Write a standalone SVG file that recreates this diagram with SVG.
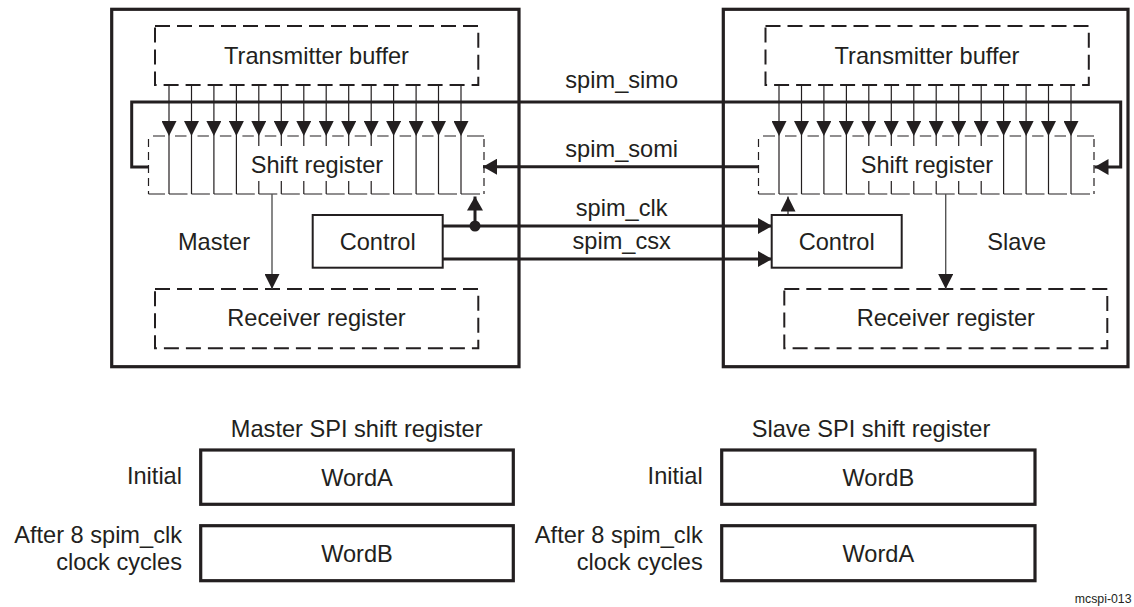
<svg xmlns="http://www.w3.org/2000/svg" xmlns:xlink="http://www.w3.org/1999/xlink" width="1134" height="607" viewBox="0 0 1134 607">
<style>
text{font-family:"Liberation Sans",Arial,Helvetica,sans-serif;font-size:23.6px;fill:#231f20;text-anchor:middle}
.small{font-size:12.3px;text-anchor:end}
.end{text-anchor:end}
.outer{fill:none;stroke:#231f20;stroke-width:3.2}
.dash{fill:none;stroke:#231f20;stroke-width:2;stroke-dasharray:15 7}
.ctrl{fill:#fff;stroke:#231f20;stroke-width:2}
.word{fill:none;stroke:#231f20;stroke-width:3.2}
.thin{fill:none;stroke:#231f20;stroke-width:1.2}
.thind{fill:none;stroke:#231f20;stroke-width:1.2;stroke-dasharray:8 5}
.wire{fill:none;stroke:#231f20;stroke-width:3}
.feed{fill:none;stroke:#555;stroke-width:1.4}
</style>
<defs>
<marker id="ah" viewBox="0 0 14 16" refX="14" refY="8" markerWidth="14" markerHeight="16" markerUnits="userSpaceOnUse" orient="auto">
<path d="M0,0 L14,8 L0,16 z" fill="#231f20"/>
</marker>
<marker id="ahs" viewBox="0 0 15 15" refX="15" refY="7.5" markerWidth="15" markerHeight="15" markerUnits="userSpaceOnUse" orient="auto">
<path d="M0,0 L15,7.5 L0,15 z" fill="#231f20"/>
</marker>
<g id="sr">
<path class="thin" marker-end="url(#ahs)" d="M169 85 V136"/>
<path class="thin" marker-end="url(#ahs)" d="M191.5 85 V136"/>
<path class="thin" marker-end="url(#ahs)" d="M213.9 85 V136"/>
<path class="thin" marker-end="url(#ahs)" d="M236.4 85 V136"/>
<path class="thin" marker-end="url(#ahs)" d="M258.8 85 V136"/>
<path class="thin" marker-end="url(#ahs)" d="M281.3 85 V136"/>
<path class="thin" marker-end="url(#ahs)" d="M303.8 85 V136"/>
<path class="thin" marker-end="url(#ahs)" d="M326.2 85 V136"/>
<path class="thin" marker-end="url(#ahs)" d="M348.7 85 V136"/>
<path class="thin" marker-end="url(#ahs)" d="M371.2 85 V136"/>
<path class="thin" marker-end="url(#ahs)" d="M393.6 85 V136"/>
<path class="thin" marker-end="url(#ahs)" d="M416.1 85 V136"/>
<path class="thin" marker-end="url(#ahs)" d="M438.5 85 V136"/>
<path class="thin" marker-end="url(#ahs)" d="M461 85 V136"/>
<path class="thin" d="M153 136 H165 M175 136 H186.5 M197.5 136 H208.9 M219.9 136 H231.4 M242.4 136 H253.8 M264.8 136 H276.3 M287.3 136 H298.8 M309.8 136 H321.2 M332.2 136 H343.7 M354.7 136 H366.2 M377.2 136 H388.6 M399.6 136 H411.1 M422.1 136 H433.5 M444.5 136 H456 M467 136 H484"/>
<path class="thin" d="M148.5 194 H165 M169 194 H187.5 M191.5 194 H209.9 M213.9 194 H232.4 M236.4 194 H254.8 M258.8 194 H277.3 M281.3 194 H299.8 M303.8 194 H322.2 M326.2 194 H344.7 M348.7 194 H367.2 M371.2 194 H389.6 M393.6 194 H412.1 M416.1 194 H434.5 M438.5 194 H457 M461 194 H480"/>
<path class="thin" d="M169 136 V194 M191.5 136 V194 M213.9 136 V194 M236.4 136 V194 M393.6 136 V194 M416.1 136 V194 M438.5 136 V194 M461 136 V194 M258.8 136 V146 M258.8 181 V194 M281.3 136 V146 M281.3 181 V194 M303.8 136 V146 M303.8 181 V194 M326.2 136 V146 M326.2 181 V194 M348.7 136 V146 M348.7 181 V194 M371.2 136 V146 M371.2 181 V194"/>
<path class="thind" d="M148.5 139 V194 M484 139 V194"/>
</g>
</defs>
<rect width="1134" height="607" fill="#fff"/>

<g id="master">
<rect class="outer" x="111.7" y="9.3" width="407.3" height="357.4"/>
<text x="214" y="250">Master</text>
</g>
<g id="master-tx">
<rect class="dash" x="155" y="26" width="323.3" height="59"/>
<text x="316.5" y="64">Transmitter buffer</text>
</g>
<g id="master-shift">
<use xlink:href="#sr" href="#sr"/>
<text x="317" y="173">Shift register</text>
</g>
<g id="master-control">
<rect class="ctrl" x="312.7" y="215" width="130" height="52.7"/>
<text x="377.7" y="250">Control</text>
</g>
<g id="master-rx">
<rect class="dash" x="155" y="289" width="323.3" height="59.3"/>
<text x="316.5" y="326">Receiver register</text>
</g>

<g id="slave">
<rect class="outer" x="723.3" y="9.3" width="404.7" height="357.4"/>
<text x="1016.7" y="250">Slave</text>
</g>
<g id="slave-tx">
<rect class="dash" x="765.5" y="26" width="323.3" height="59"/>
<text x="927" y="64">Transmitter buffer</text>
</g>
<g id="slave-shift">
<use xlink:href="#sr" href="#sr" transform="translate(610,0)"/>
<text x="927" y="173">Shift register</text>
</g>
<g id="slave-control">
<rect class="ctrl" x="771.7" y="215" width="130" height="52.7"/>
<text x="836.7" y="250">Control</text>
</g>
<g id="slave-rx">
<rect class="dash" x="784.3" y="289" width="323" height="59.3"/>
<text x="945.8" y="326">Receiver register</text>
</g>

<g id="connectors">
<path class="wire" marker-end="url(#ah)" d="M148.5 167 H131.7 V102 H1120.7 V167 H1094.5"/>
<path class="wire" marker-end="url(#ah)" d="M758.3 166.7 H483"/>
<path class="wire" marker-end="url(#ah)" d="M442.7 226 H772"/>
<path class="wire" marker-end="url(#ah)" d="M442.7 259 H772"/>
<path class="wire" marker-end="url(#ah)" d="M475 226 V196.5"/>
<circle cx="475" cy="226" r="5.5" fill="#231f20"/>
<path class="thin" marker-end="url(#ahs)" d="M788 215 V196.5"/>
<path class="feed" marker-end="url(#ahs)" d="M272 194 V289"/>
<path class="feed" marker-end="url(#ahs)" d="M945.7 194 V289"/>
<text x="621.7" y="88">spim_simo</text>
<text x="621.7" y="157">spim_somi</text>
<text x="621.7" y="216">spim_clk</text>
<text x="621.7" y="248.5">spim_csx</text>
</g>

<g id="master-table">
<text x="356.7" y="436.7">Master SPI shift register</text>
<text class="end" x="182" y="484">Initial</text>
<rect class="word" x="200.7" y="450" width="312.6" height="54.3"/>
<text x="357" y="486">WordA</text>
<text class="end" x="182" y="543.3">After 8 spim_clk</text>
<text class="end" x="182" y="570">clock cycles</text>
<rect class="word" x="200.7" y="525.7" width="312.6" height="55"/>
<text x="357" y="562">WordB</text>
</g>

<g id="slave-table">
<text x="871" y="436.7">Slave SPI shift register</text>
<text class="end" x="702.7" y="484">Initial</text>
<rect class="word" x="721.7" y="450" width="313.3" height="54.3"/>
<text x="878.3" y="486">WordB</text>
<text class="end" x="702.7" y="543.3">After 8 spim_clk</text>
<text class="end" x="702.7" y="570">clock cycles</text>
<rect class="word" x="721.7" y="525.7" width="313.3" height="55"/>
<text x="878.3" y="562">WordA</text>
</g>

<text class="small" x="1131.5" y="603">mcspi-013</text>
</svg>
